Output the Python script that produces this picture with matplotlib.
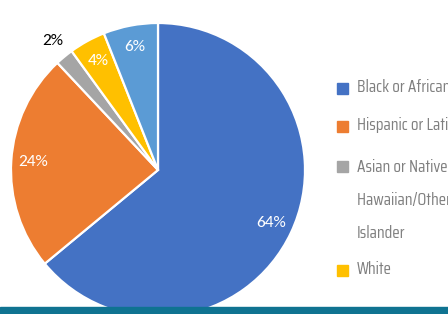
import matplotlib
matplotlib.use("Agg")
import matplotlib.pyplot as plt
from matplotlib import font_manager
import numpy as np

categories = ["Black or African American", "Hispanic or Latino",
              "Asian or Native\nHawaiian/Other Pacific\nIslander", "White", "Two or More Races"]
values = [64, 24, 2, 4, 6]
colors = ["#4472C4", "#ED7D31", "#A5A5A5", "#FFC000", "#5B9BD5"]

avail = {f.name for f in font_manager.fontManager.ttflist}
leg_font = "DejaVu Sans"
for cand in ["Saira Condensed", "Saira ExtraCondensed", "Saira Extra Condensed",
             "Barlow Condensed", "Abel"]:
    if cand in avail:
        leg_font = cand
        break
lab_font = "Carlito" if "Carlito" in avail else "Liberation Sans"

W, H = 448, 314
fig = plt.figure(figsize=(W / 100, H / 100), dpi=100)

cx, cy, r = 158, 170, 147
ax = fig.add_axes([(cx - r) / W, (H - cy - r) / H, 2 * r / W, 2 * r / H])
wedges, texts, autotexts = ax.pie(
    values, colors=colors, startangle=90, counterclock=False, radius=1,
    autopct="%d%%", pctdistance=0.85,
    wedgeprops=dict(edgecolor="white", linewidth=1.6),
    textprops=dict(color="white", fontsize=12.5, family=lab_font))
ax.set_xlim(-1, 1)
ax.set_ylim(-1, 1)
ax.set_aspect("equal")
ax.axis("off")

# small slice label sits outside in black
w = wedges[2]
ang = np.deg2rad((w.theta1 + w.theta2) / 2)
autotexts[2].set_position((1.12 * np.cos(ang), 1.14 * np.sin(ang)))
autotexts[2].set_color("black")

# legend font size: fit "White" to ~35 px wide
renderer = fig.canvas.get_renderer()
probe = fig.text(0, 0, "White", fontsize=10, family=leg_font, weight="normal")
pw = probe.get_window_extent(renderer).width
probe.remove()
leg_size = 10 * 35.0 / pw

# legend (manual to match wrapped spacing)
sq_y = [88, 126, 166, 270]
base_y = [92, 130, 172, 274]
for lab, col, sy, by in zip(categories[:4], colors[:4], sq_y, base_y):
    fig.patches.append(plt.Rectangle((337 / W, (H - sy - 5.5) / H), 11 / W, 11 / H,
                                     transform=fig.transFigure, color=col, figure=fig))
    for i, line in enumerate(lab.split("\n")):
        fig.text(357 / W, (H - by - i * 33) / H, line, fontsize=leg_size,
                 family=leg_font, weight="normal",
                 color="#7f7f7f", va="baseline", ha="left",
                 transform=fig.transFigure)

# bottom band
fig.patches.append(plt.Rectangle((0, 0), 1, 7 / H, transform=fig.transFigure,
                                 color="#0F7391", figure=fig, zorder=5))

fig.savefig("out.png", dpi=100)
